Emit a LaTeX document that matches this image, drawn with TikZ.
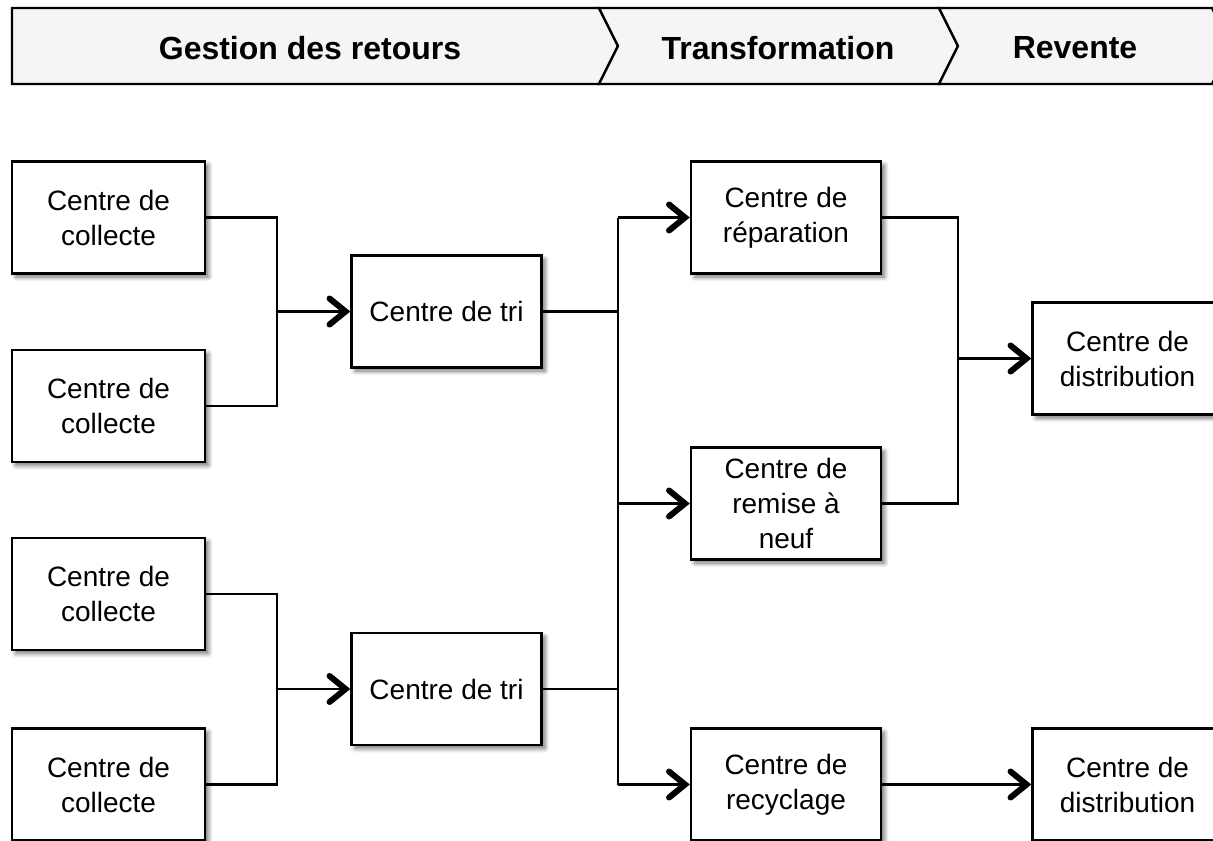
\documentclass[tikz,border=0pt]{standalone}
\usepackage{fontspec}
\setmainfont{Liberation Sans}
\usetikzlibrary{arrows.meta,shadows.blur}
\tikzset{arrow/.style={-{Straight Barb[length=8pt,width=13pt,line width=3pt,line cap=round]}, line width=1.1pt}}
\tikzset{link/.style={line width=1.1pt}}
\tikzset{centre/.style={draw, line width=1.2pt, fill=white, align=center,
    minimum width=95pt, minimum height=56pt, inner sep=2pt,
    font=\fontsize{14}{17.5}\selectfont,
    blur shadow={shadow xshift=1.8pt, shadow yshift=-1.8pt, shadow blur steps=6, shadow opacity=55}}}
\tikzset{phase/.style={draw, line width=1.2pt, fill=black!4, line join=miter}}
\tikzset{phasetext/.style={font=\fontsize{16}{19}\selectfont\bfseries}}

\begin{document}
\begin{tikzpicture}[x=0.5pt, y=-0.5pt]
      \useasboundingbox (0,0) rectangle (1213,840);

      % bandeau des phases
      \draw[phase] (12,8) -- (599,8) -- (618,46) -- (599,84) -- (12,84) -- cycle;
      \draw[phase] (599,8) -- (939,8) -- (958,46) -- (939,84) -- (599,84) -- (618,46) -- cycle;
      \draw[phase] (939,8) -- (1212,8) -- (1231,46) -- (1212,84) -- (939,84) -- (958,46) -- cycle;
      \node[phasetext] (P1) at (310,48) {Gestion des retours};
      \node[phasetext] (P2) at (778,48) {Transformation};
      \node[phasetext] (P3) at (1075,48) {Revente};

      \node[centre, minimum width=96.5pt] (C1) at (108.5,217.5) {Centre de\\collecte};
      \node[centre, minimum width=96.5pt] (C2) at (108.5,406) {Centre de\\collecte};
      \node[centre, minimum width=96.5pt] (C3) at (108.5,594) {Centre de\\collecte};
      \node[centre, minimum width=96.5pt] (C4) at (108.5,784.5) {Centre de\\collecte};
      \node[centre] (T1) at (446.5,311.5) {Centre de tri};
      \node[centre] (T2) at (446.5,689) {Centre de tri};
      \node[centre] (R) at (786,217.5) {Centre de\\réparation};
      \node[centre] (N) at (786,503.5) {Centre de\\remise à\\neuf};
      \node[centre] (Y) at (786,784.5) {Centre de\\recyclage};
      \node[centre] (D1) at (1127.5,358.5) {Centre de\\distribution};
      \node[centre] (D2) at (1127.5,784.5) {Centre de\\distribution};

      \coordinate (J1) at (277,311.5);
      \coordinate (J2) at (277,689);
      \coordinate (S1) at (618,217.5);
      \coordinate (S2) at (618,784.5);
      \coordinate (J3) at (958,358.5);

      \draw[link] (C1.east) -| (J1);
      \draw[link] (C2.east) -| (J1);
      \draw[arrow] (J1) -- (T1.west);
      \draw[link] (C3.east) -| (J2);
      \draw[link] (C4.east) -| (J2);
      \draw[arrow] (J2) -- (T2.west);

      \draw[link] (T1.east) -- (T1.east -| S1);
      \draw[link] (T2.east) -- (T2.east -| S1);
      \draw[link] (S1) -- (S2);
      \draw[arrow] (S1) -- (R.west);
      \draw[arrow] (N.west -| S1) -- (N.west);
      \draw[arrow] (S2) -- (Y.west);

      \draw[link] (R.east) -| (J3);
      \draw[link] (N.east) -| (J3);
      \draw[arrow] (J3) -- (D1.west);
      \draw[arrow] (Y.east) -- (D2.west);
    \end{tikzpicture}
\end{document}
